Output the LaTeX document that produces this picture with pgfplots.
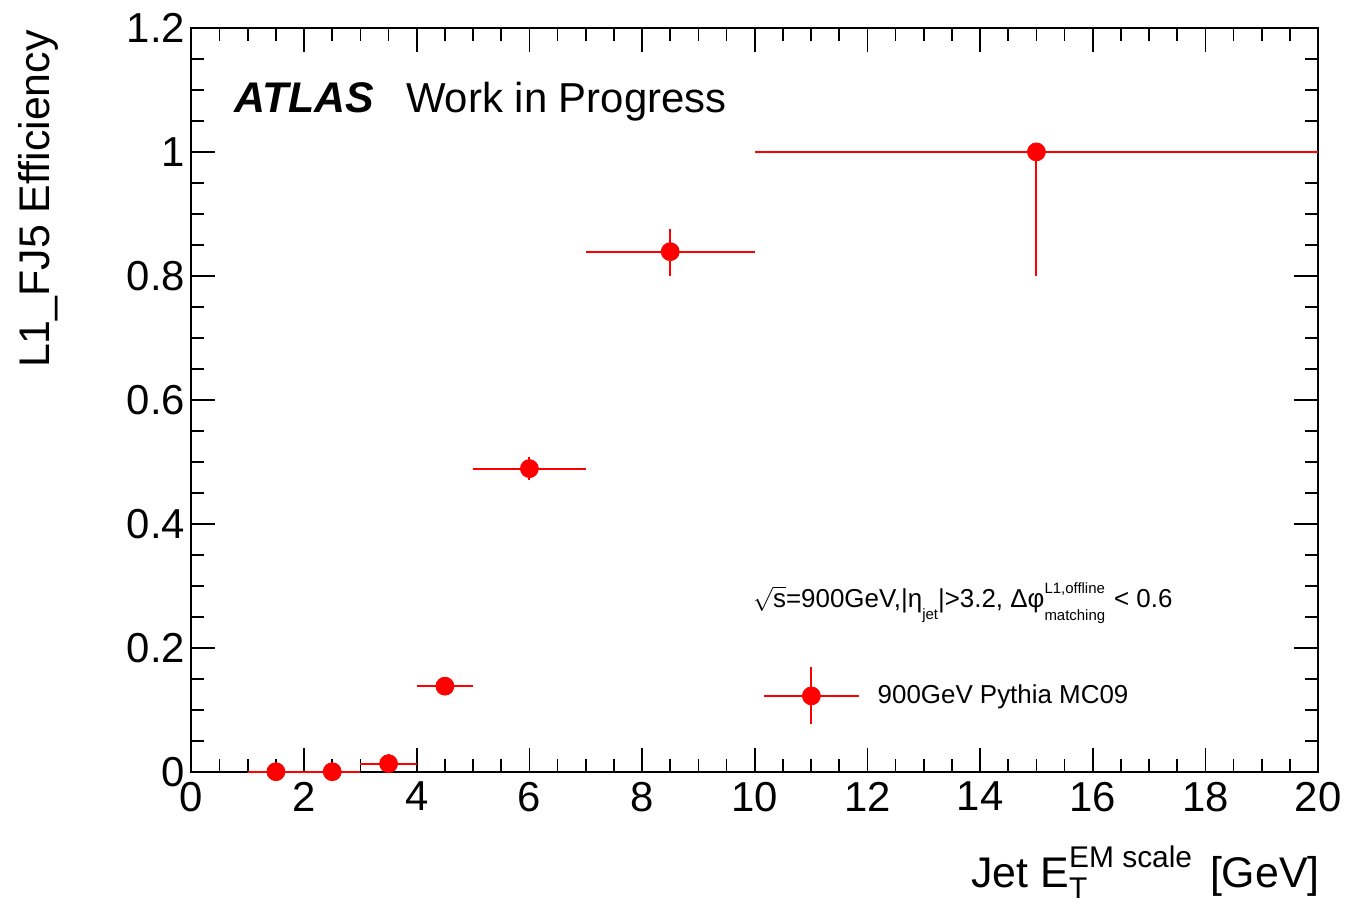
\documentclass[border=0pt]{standalone}
\usepackage{pgfplots}
\pgfplotsset{compat=1.18}
\usepackage{fontspec}
\setmainfont{Liberation Sans}
\begin{document}
\begin{tikzpicture}
\begin{axis}[
  scale only axis, width=565pt, height=373pt,
  at={(0,0)}, anchor=south west,
  xmin=0, xmax=20, ymin=0, ymax=1.2,
  xtick={0,2,4,6,8,10,12,14,16,18,20},
  ytick={0,0.2,0.4,0.6,0.8,1,1.2},
  minor x tick num=3, minor y tick num=3,
  tick align=inside, tick pos=both, ticklabel pos=left,
  major tick length=12pt, minor tick length=6.5pt,
  axis line style={line width=1pt},
  every tick/.style={black, line width=0.8pt},
  tick label style={font=\fontsize{21}{25}\selectfont},
  /pgf/number format/assume math mode=true,
  /pgf/number format/fixed,
  yticklabel style={inner xsep=1pt, xshift=-2pt},
  xticklabel style={inner ysep=2pt, yshift=-3pt},
  clip=false,
  legend style={at={(0.507,0.1019)}, anchor=west, draw=none, fill=none,
    font=\fontsize{13}{15}\selectfont, inner sep=0pt, column sep=9pt,
    nodes={inner sep=0pt}},
  legend cell align=left,
]
\addplot[red, only marks, mark=*, mark size=4.5pt,
  mark options={fill=red, draw=red},
  legend image code/.code={
    \draw[red, line width=1pt] (0pt,0pt)--(47.5pt,0pt);
    \draw[red, line width=1pt] (23.75pt,-14.25pt)--(23.75pt,14.25pt);
    \fill[red] (23.75pt,0pt) circle (4.5pt);
  },
  error bars/.cd, x dir=both, x explicit, y dir=both, y explicit,
  error mark=none, error bar style={line width=1pt, red}]
coordinates {
(1.5,0) +- (0.5,0)
(2.5,0) +- (0.5,0)
(3.5,0.013) +- (0.5,0.015)
(4.5,0.138) +- (0.5,0.012)
(6,0.489) +- (1,0.018)
(8.5,0.839) += (1.5,0.037) -= (1.5,0.040)
(15,1.0) += (5,0) -= (5,0.2)
};
\addlegendentry{900GeV Pythia MC09}
\end{axis}
% y label
\node[rotate=90, anchor=base east, inner sep=0pt, font=\fontsize{21.5}{25}\selectfont] at (-71pt,372pt) {L1\_FJ5 Efficiency};
% x label
\node[anchor=base east, inner sep=0pt, font=\fontsize{21.5}{25}\selectfont] at (566pt,-58pt)
  {Jet E\makebox[0pt][l]{\raisebox{-5.5pt}{\fontsize{15}{17}\selectfont T}}\raisebox{10pt}{\fontsize{15}{17}\selectfont EM scale}\hspace{3pt} [GeV]};
% ATLAS label
\node[anchor=base west, inner sep=0pt, font=\fontsize{21.5}{25}\selectfont\bfseries\itshape] at (21.5pt,330.5pt) {ATLAS};
\node[anchor=base west, inner sep=0pt, font=\fontsize{21}{25}\selectfont] at (107.5pt,330.5pt) {Work in Progress};
% annotation
\node[anchor=base west, inner sep=0pt, font=\fontsize{13}{15}\selectfont] at (281.5pt,82.5pt)
  {$\sqrt{\mbox{s}}$=900GeV,|η\raisebox{-6pt}{\fontsize{7.5}{9}\selectfont jet}|>3.2, Δφ\makebox[0pt][l]{\raisebox{-6.5pt}{\fontsize{7.5}{9}\selectfont matching}}\raisebox{7pt}{\fontsize{7.5}{9}\selectfont L1,offline}\hspace{1pt} < 0.6};
\path[use as bounding box] (-96pt,-66.5pt) rectangle (578pt,387pt);
\end{tikzpicture}
\end{document}
